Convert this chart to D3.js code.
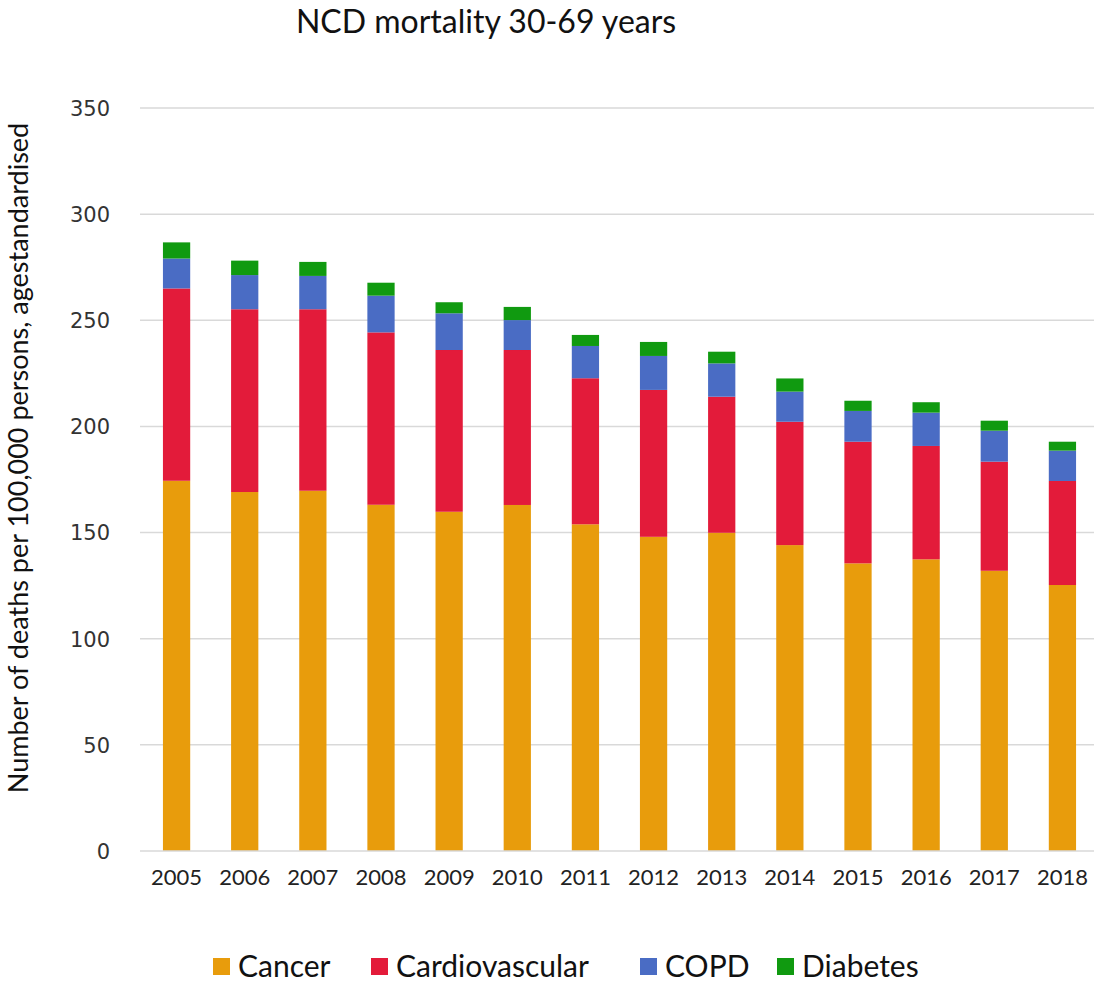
<!DOCTYPE html>
<html>
<head>
<meta charset="utf-8">
<script src="https://cdn.jsdelivr.net/npm/d3@7"></script>
<style>
  html, body { margin: 0; padding: 0; background: #fff; }
  svg { display: block; }
</style>
</head>
<body>
<script>
const years = ["2005","2006","2007","2008","2009","2010","2011","2012","2013","2014","2015","2016","2017","2018"];
const seriesNames = ["Cancer", "Cardiovascular", "COPD", "Diabetes"];
const cancer =         [174.4, 169.1, 169.7, 163.1, 159.8, 163.0, 153.9, 148.0, 149.9, 144.1, 135.5, 137.4, 132.0, 125.3];
const cardiovascular = [90.6, 86.1, 85.5, 81.2, 76.2, 73.0, 68.8, 69.2, 64.1, 58.1, 57.3, 53.4, 51.4, 49.0];
const copd =           [14.1, 16.1, 15.7, 17.3, 17.3, 14.1, 15.2, 16.0, 15.7, 14.2, 14.5, 15.7, 14.6, 14.3];
const diabetes =       [7.6, 6.8, 6.6, 6.1, 5.2, 6.2, 5.2, 6.6, 5.5, 6.2, 4.8, 4.9, 4.7, 4.2];
const yTicks = [0, 50, 100, 150, 200, 250, 300, 350];
const colors = ["#E89C0C", "#E31B3A", "#4A6CC4", "#109A10"];

const W = 1097, H = 999;
const plotLeft = 140, plotRight = 1094, plotTop = 108, plotBottom = 851;

const table = years.map((y, i) => ({
  year: y, Cancer: cancer[i], Cardiovascular: cardiovascular[i], COPD: copd[i], Diabetes: diabetes[i]
}));
const stacked = d3.stack().keys(seriesNames)(table);

const svg = d3.select("body").append("svg").attr("width", W).attr("height", H);

const x = d3.scaleBand().domain(years).range([plotLeft + 2.5, plotRight + 2.5]).paddingInner(0.6).paddingOuter(0.3);
const y = d3.scaleLinear().domain([0, 350]).range([plotBottom, plotTop]);

// gridlines
svg.append("g").selectAll("line").data(yTicks.filter(d => d > 0)).join("line")
  .attr("x1", plotLeft).attr("x2", plotRight)
  .attr("y1", d => y(d)).attr("y2", d => y(d))
  .attr("stroke", "#d9d9d9").attr("stroke-width", 1.5);

// y tick labels
const yAxis = d3.axisLeft(y).tickValues(yTicks).tickSize(0).tickPadding(0);
const ga = svg.append("g").attr("transform", `translate(${plotLeft - 30},0)`).call(yAxis);
ga.select(".domain").remove();
ga.selectAll("text").attr("font-family", "DejaVu Sans").attr("font-size", 21).attr("fill", "#333").attr("dy", "0.35em");

// bars
svg.append("g").selectAll("g").data(stacked).join("g")
  .attr("fill", (d, i) => colors[i])
  .selectAll("rect").data(d => d).join("rect")
  .attr("x", d => x(d.data.year))
  .attr("width", x.bandwidth())
  .attr("y", d => y(d[1]))
  .attr("height", d => y(d[0]) - y(d[1]));

// baseline
svg.append("line").attr("x1", plotLeft).attr("x2", plotRight)
  .attr("y1", y(0)).attr("y2", y(0)).attr("stroke", "#d9d9d9").attr("stroke-width", 1.5);

// x labels
const xAxis = d3.axisBottom(x).tickSize(0).tickPadding(0);
const gx = svg.append("g").attr("transform", `translate(0,${y(0)})`).call(xAxis);
gx.select(".domain").remove();
gx.selectAll("text").attr("font-family", "Lato").attr("font-size", 22).attr("fill", "#222").attr("dy", "1.55em");

// title
svg.append("text").attr("x", 486).attr("y", 33).attr("text-anchor", "middle")
  .attr("font-family", "Lato").attr("font-size", 32).attr("fill", "#111")
  .text("NCD mortality 30-69 years");

// y axis title
svg.append("text").attr("transform", `translate(28,${458}) rotate(-90)`).attr("text-anchor", "middle")
  .attr("font-family", "Lato").attr("font-size", 27).attr("fill", "#111")
  .text("Number of deaths per 100,000 persons, agestandardised");

// legend
const legendX = [213, 371, 640, 777];
const lg = svg.append("g");
seriesNames.forEach((name, i) => {
  lg.append("rect").attr("x", legendX[i]).attr("y", 958).attr("width", 17).attr("height", 17).attr("fill", colors[i]);
  lg.append("text").attr("x", legendX[i] + 25).attr("y", 977)
    .attr("font-family", "Lato").attr("font-size", 30).attr("fill", "#111").text(name);
});
</script>
</body>
</html>
